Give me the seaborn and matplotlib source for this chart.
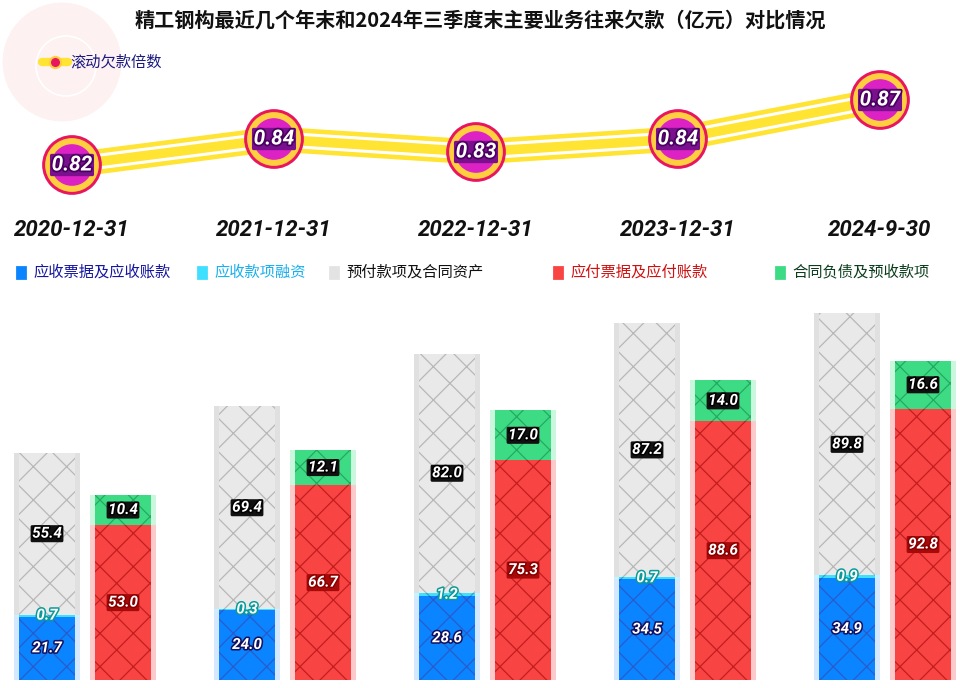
import matplotlib
matplotlib.use("Agg")
import matplotlib.pyplot as plt
import matplotlib.patheffects as pe
from matplotlib.patches import Rectangle, Ellipse
from matplotlib.lines import Line2D
import seaborn as sns

# ---- data ----
dates = ["2020-12-31", "2021-12-31", "2022-12-31", "2023-12-31", "2024-9-30"]
ratio = [0.82, 0.84, 0.83, 0.84, 0.87]
receivable = [21.7, 24.0, 28.6, 34.5, 34.9]      # 应收票据及应收账款
financing = [0.7, 0.3, 1.2, 0.7, 0.9]            # 应收款项融资
prepaid = [55.4, 69.4, 82.0, 87.2, 89.8]         # 预付款项及合同资产
payable = [53.0, 66.7, 75.3, 88.6, 92.8]         # 应付票据及应付账款
contract = [10.4, 12.1, 17.0, 14.0, 16.6]        # 合同负债及预收款项

title = "精工钢构最近几个年末和2024年三季度末主要业务往来欠款（亿元）对比情况"
line_name = "滚动欠款倍数"
legend_names = ["应收票据及应收账款", "应收款项融资", "预付款项及合同资产", "应付票据及应付账款", "合同负债及预收款项"]

# figure drawn at dpi 200 (so hatch cells are coarse), sizes given as if dpi 100
S = 0.5
W, H = 960, 688
sns.set_theme(style="white")
plt.rcParams["font.family"] = ["Noto Sans CJK SC", "DejaVu Sans"]
plt.rcParams["hatch.linewidth"] = 0.45

fig = plt.figure(figsize=(W / 200, H / 200), dpi=200)


def fx(px):
    return px / W


def fy(py):
    return 1 - py / H


# faint watermark
fig.add_artist(Ellipse((fx(62), fy(62)), 116 / W, 116 / H, transform=fig.transFigure,
                       color="#fdf1f1", zorder=0))
fig.add_artist(Ellipse((fx(66), fy(66)), 60 / W, 60 / H, transform=fig.transFigure,
                       facecolor="none", edgecolor="white", lw=1.2 * S, zorder=0))

fig.text(0.5, fy(20), title, ha="center", va="center", fontsize=14.5 * S,
         fontweight="bold", color="#111111")

# ---- top: rolling ratio line ----
ax1 = fig.add_axes([0, fy(200), 1, 160 / H])
ax1.patch.set_alpha(0)
sns.lineplot(x=dates, y=ratio, sort=False, ax=ax1, color="#ffe433", lw=18 * S,
             path_effects=[pe.Normal(),
                           pe.Stroke(linewidth=2.2 * S, foreground="white", offset=(0, 4.6 * S)),
                           pe.Stroke(linewidth=2.2 * S, foreground="white", offset=(0, -4.6 * S))])
sns.scatterplot(x=dates, y=ratio, ax=ax1, s=1850 * S * S, color="#e8155f", edgecolor="none",
                zorder=3, legend=False)
sns.scatterplot(x=dates, y=ratio, ax=ax1, s=1500 * S * S, color="#ffcf3f", edgecolor="none",
                zorder=4, legend=False)
sns.scatterplot(x=dates, y=ratio, ax=ax1, s=900 * S * S, color="#dc22c4", edgecolor="none",
                zorder=5, legend=False)
for i, r in enumerate(ratio):
    ax1.text(i, r, f"{r:.2f}", ha="center", va="center", fontsize=15 * S, color="white",
             fontweight="bold", fontstyle="italic", family="Roboto", zorder=6,
             path_effects=[pe.withStroke(linewidth=2.5 * S, foreground="#4a0060")],
             bbox=dict(boxstyle="round,pad=0.08", fc="#7a108e", ec="none"))
ax1.set_xlim(-72 / 202, (W - 72) / 202)
ax1.set_ylim(0.82 - 35 / 1300, 0.87 + 60 / 1300)
ax1.set_xlabel("")
ax1.set_ylabel("")
ax1.set_yticks([])
ax1.set_xticks(range(len(dates)))
ax1.set_xticklabels(dates, fontsize=16 * S, fontweight="bold", fontstyle="italic",
                    family="Roboto", color="#111111")
ax1.tick_params(axis="x", length=0, pad=14 * S)
sns.despine(ax=ax1, left=True, bottom=True)

# line legend
fig.add_artist(Line2D([fx(42), fx(68)], [fy(62), fy(62)], transform=fig.transFigure,
                      color="#ffe433", lw=6 * S))
fig.add_artist(Line2D([fx(55)], [fy(62)], transform=fig.transFigure, marker="o",
                      markersize=8 * S, color="#e8155f", markeredgecolor="#ffcf3f",
                      markeredgewidth=1.5 * S))
fig.text(fx(70), fy(62), line_name, ha="left", va="center", fontsize=11 * S, color="#1a1a80")

# ---- bottom: stacked bars ----
ax2 = fig.add_axes([0, 0, 1, fy(300)])
ax2.patch.set_alpha(0)
n = len(dates)
x_left = [i - 0.19 for i in range(n)]
x_right = [i + 0.19 for i in range(n)]


def bar_layer(xs, heights, color, glow, hatch_color):
    sns.barplot(x=xs, y=heights, native_scale=True, width=0.33, color=glow, saturation=1,
                errorbar=None, ax=ax2, linewidth=0)
    n0 = len(ax2.patches)
    sns.barplot(x=xs, y=heights, native_scale=True, width=0.28, color=color, saturation=1,
                errorbar=None, ax=ax2, linewidth=0)
    for p in ax2.patches[n0:]:
        p.set_hatch("xx")
        p.set_edgecolor(hatch_color)
        p.set_linewidth(0)


cum_fin = [a + b for a, b in zip(receivable, financing)]
cum_pre = [a + b for a, b in zip(cum_fin, prepaid)]
cum_con = [a + b for a, b in zip(payable, contract)]

bar_layer(x_left, cum_pre, "#e9e9e9", "#e0e0e0", "#b8b8b8")
bar_layer(x_left, cum_fin, "#3fe0ff", "#c4f4ff", "#22a8cc")
bar_layer(x_left, receivable, "#0a84ff", "#d4e8ff", "#2a5ccc")
bar_layer(x_right, cum_con, "#3ddc84", "#ccf7df", "#25a862")
bar_layer(x_right, payable, "#f94444", "#fccaca", "#c41e1e")


def label(x, y, txt, stroke, box=None):
    kw = {}
    if box:
        kw["bbox"] = dict(boxstyle="round,pad=0.1", fc=box, ec="none")
    ax2.text(x, y, txt, ha="center", va="center", fontsize=11 * S, color="white",
             fontweight="bold", fontstyle="italic", family="Roboto", zorder=10,
             path_effects=[pe.withStroke(linewidth=2.2 * S, foreground=stroke)], **kw)


for i in range(n):
    label(x_left[i], receivable[i] / 2, f"{receivable[i]:.1f}", "#101060")
    label(x_left[i], cum_fin[i] - financing[i] / 2, f"{financing[i]:.1f}", "#0a9a9a")
    label(x_left[i], cum_fin[i] + prepaid[i] / 2, f"{prepaid[i]:.1f}", "#000000", "#111111")
    label(x_right[i], payable[i] / 2, f"{payable[i]:.1f}", "#8a0000", "#a80a0a")
    label(x_right[i], payable[i] + contract[i] / 2, f"{contract[i]:.1f}", "#000000", "#111111")

ax2.set_xlim(-85 / 200, (W - 85) / 200)
ax2.set_ylim(-8 / 2.92, 380 / 2.92)
ax2.axis("off")

# bar legend
leg_x = [17, 198, 330, 554, 776]
leg_colors = ["#0a84ff", "#3fe0ff", "#e3e3e3", "#f94444", "#3ddc84"]
leg_text_colors = ["#1515a0", "#18b0ee", "#111111", "#d01010", "#0b3d1c"]
for px, c, tc, name in zip(leg_x, leg_colors, leg_text_colors, legend_names):
    fig.add_artist(Rectangle((fx(px), fy(278)), 8 / W, 11 / H, transform=fig.transFigure,
                             color=c))
    fig.text(fx(px + 16), fy(272), name, ha="left", va="center", fontsize=11 * S, color=tc)

fig.savefig("out.png", dpi=200)
